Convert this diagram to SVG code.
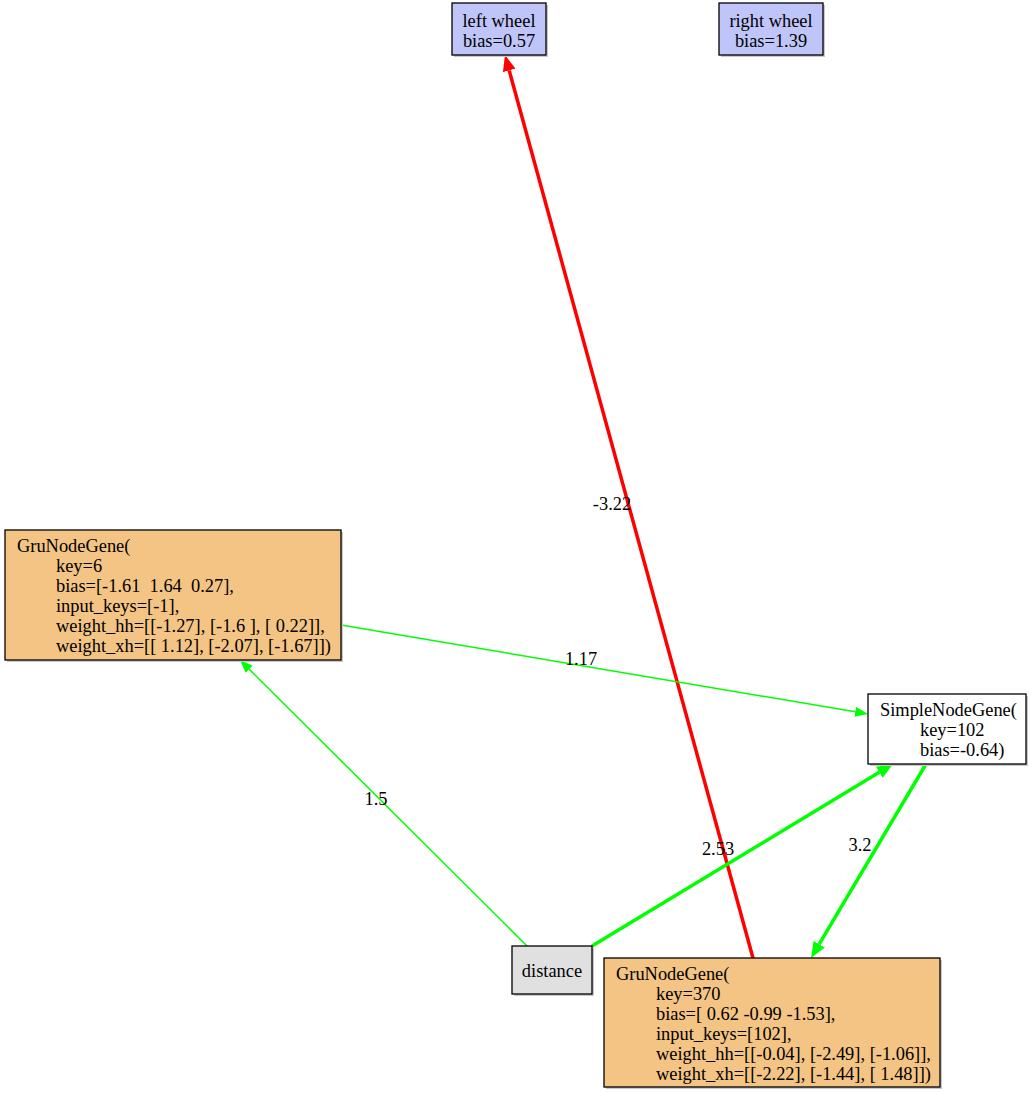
<svg xmlns="http://www.w3.org/2000/svg" width="1032" height="1093" viewBox="0 0 1032 1093">
  <style>
    text { font-family: "Liberation Serif", "Times New Roman", serif; font-size: 18.4px; fill: #000; }
    .box { stroke: #000; stroke-width: 1.3; }
    .shadow { fill: #c8c8c8; stroke: none; }
    .out { fill: #bfc5f8; }
    .gru { fill: #f4c484; }
    .simple { fill: #ffffff; }
    .inp { fill: #e0e0e0; }
    .e { fill: none; }
    .thin { stroke: #00ff00; stroke-width: 1.5; }
    .thickg { stroke: #00ff00; stroke-width: 3.5; }
    .thickr { stroke: #ff0000; stroke-width: 3.5; }
    .mid { text-anchor: middle; }
  </style>
  <defs>
    <marker id="arrowThin" viewBox="0 -5 13 10" markerWidth="13" markerHeight="10" refX="0" refY="0" orient="auto" markerUnits="userSpaceOnUse">
      <path d="M0,-5 L13,0 L0,5 z" fill="#00ff00"/>
    </marker>
    <marker id="arrowG" viewBox="0 -6.5 16 13" markerWidth="16" markerHeight="13" refX="0" refY="0" orient="auto" markerUnits="userSpaceOnUse">
      <path d="M0,-6.5 L16,0 L0,6.5 z" fill="#00ff00"/>
    </marker>
    <marker id="arrowR" viewBox="0 -6.5 16 13" markerWidth="16" markerHeight="13" refX="0" refY="0" orient="auto" markerUnits="userSpaceOnUse">
      <path d="M0,-6.5 L16,0 L0,6.5 z" fill="#ff0000"/>
    </marker>
  </defs>

  <!-- connectors -->
  <g id="edges">
    <g id="edge-370-left">
      <line class="e thickr" x1="753" y1="958" x2="509.2" y2="70.4" marker-end="url(#arrowR)"/>
      <text class="mid" x="612" y="510">-3.22</text>
    </g>
    <g id="edge-6-102">
      <line class="e thin" x1="341" y1="625" x2="855.2" y2="711.8" marker-end="url(#arrowThin)"/>
      <text class="mid" x="581" y="665">1.17</text>
    </g>
    <g id="edge-distance-6">
      <line class="e thin" x1="527" y1="946" x2="249.2" y2="669.2" marker-end="url(#arrowThin)"/>
      <text class="mid" x="376" y="805">1.5</text>
    </g>
    <g id="edge-distance-102">
      <line class="e thickg" x1="592" y1="946" x2="879.3" y2="772.3" marker-end="url(#arrowG)"/>
      <text class="mid" x="718" y="855">2.53</text>
    </g>
    <g id="edge-102-370">
      <line class="e thickg" x1="926" y1="764" x2="819.2" y2="944.2" marker-end="url(#arrowG)"/>
      <text class="mid" x="860" y="851">3.2</text>
    </g>
  </g>

  <!-- nodes -->
  <g id="node-left-wheel">
    <rect class="shadow" x="454" y="5" width="94" height="52"/>
    <rect class="box out" x="452" y="3" width="94" height="52"/>
    <text class="mid" x="499" y="26.5">left wheel</text>
    <text class="mid" x="499" y="46.5">bias=0.57</text>
  </g>

  <g id="node-right-wheel">
    <rect class="shadow" x="721" y="5" width="104" height="52"/>
    <rect class="box out" x="719" y="3" width="104" height="52"/>
    <text class="mid" x="771" y="26.5">right wheel</text>
    <text class="mid" x="771" y="46.5">bias=1.39</text>
  </g>

  <g id="node-gru-6">
    <rect class="shadow" x="7" y="532" width="336" height="130"/>
    <rect class="box gru" x="5" y="530" width="336" height="130"/>
    <text x="17" y="551.5">GruNodeGene(</text>
    <text x="56" y="571.5">key=6</text>
    <text x="56" y="591.5" xml:space="preserve">bias=[-1.61  1.64  0.27],</text>
    <text x="56" y="611.5">input_keys=[-1],</text>
    <text x="56" y="631.5" xml:space="preserve">weight_hh=[[-1.27], [-1.6 ], [ 0.22]],</text>
    <text x="56" y="651.5" xml:space="preserve">weight_xh=[[ 1.12], [-2.07], [-1.67]])</text>
  </g>

  <g id="node-simple-102">
    <rect class="shadow" x="870" y="696" width="158" height="70"/>
    <rect class="box simple" x="868" y="694" width="158" height="70"/>
    <text x="880" y="715.5">SimpleNodeGene(</text>
    <text x="920" y="735.5">key=102</text>
    <text x="920" y="755.5">bias=-0.64)</text>
  </g>

  <g id="node-distance">
    <rect class="shadow" x="514" y="948" width="80" height="48"/>
    <rect class="box inp" x="512" y="946" width="80" height="48"/>
    <text class="mid" x="552" y="977">distance</text>
  </g>

  <g id="node-gru-370">
    <rect class="shadow" x="606" y="960" width="336" height="129"/>
    <rect class="box gru" x="604" y="958" width="336" height="129"/>
    <text x="616" y="979.5">GruNodeGene(</text>
    <text x="656" y="999.5">key=370</text>
    <text x="656" y="1019.5" xml:space="preserve">bias=[ 0.62 -0.99 -1.53],</text>
    <text x="656" y="1039.5">input_keys=[102],</text>
    <text x="656" y="1059.5" xml:space="preserve">weight_hh=[[-0.04], [-2.49], [-1.06]],</text>
    <text x="656" y="1079.5" xml:space="preserve">weight_xh=[[-2.22], [-1.44], [ 1.48]])</text>
  </g>
</svg>
